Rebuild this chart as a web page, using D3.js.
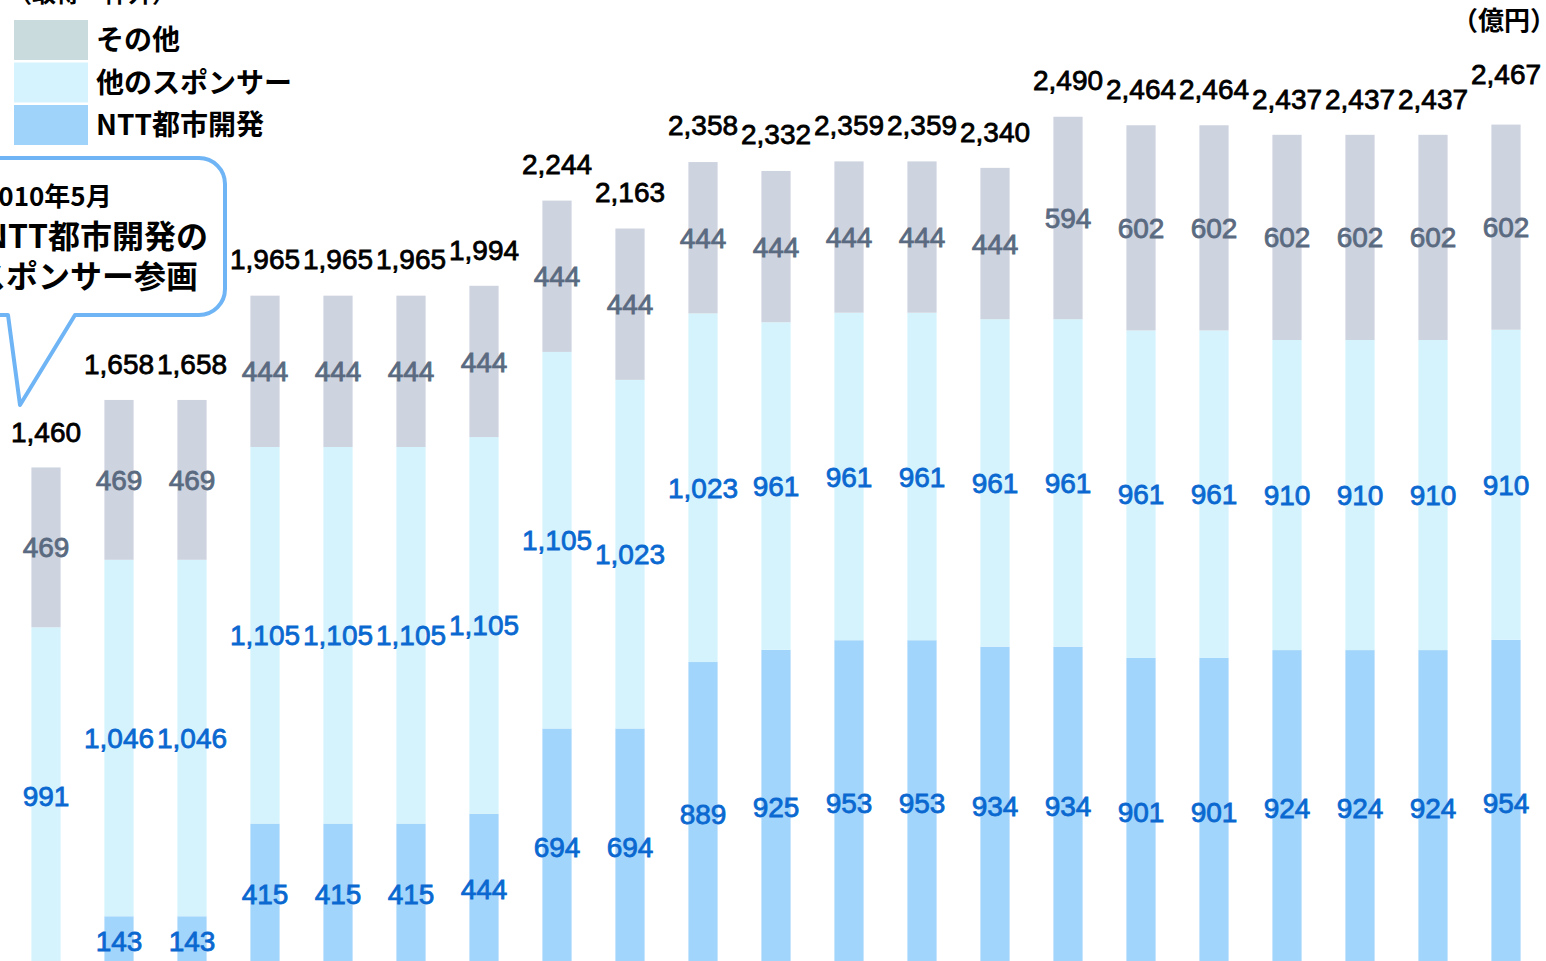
<!DOCTYPE html>
<html>
<head>
<meta charset="utf-8">
<script src="https://cdnjs.cloudflare.com/ajax/libs/d3/7.8.5/d3.min.js"></script>
<style>
  html, body { margin: 0; padding: 0; background: #fff; overflow: hidden; }
  svg { display: block; }
  text { font-family: "Liberation Sans", Arial, sans-serif; }
  .jp { font-family: "Noto Sans CJK JP", sans-serif; }
</style>
</head>
<body>
<div id="chart"></div>
<script>
// values (億円)
const ntt      = [0, 143, 143, 415, 415, 415, 444, 694, 694, 889, 925, 953, 953, 934, 934, 901, 901, 924, 924, 924, 954];
const sponsors = [991, 1046, 1046, 1105, 1105, 1105, 1105, 1105, 1023, 1023, 961, 961, 961, 961, 961, 961, 961, 910, 910, 910, 910];
const others   = [469, 469, 469, 444, 444, 444, 444, 444, 444, 444, 444, 444, 444, 444, 594, 602, 602, 602, 602, 602, 602];
const totals   = [1460, 1658, 1658, 1965, 1965, 1965, 1994, 2244, 2163, 2358, 2332, 2359, 2359, 2340, 2490, 2464, 2464, 2437, 2437, 2437, 2467];

const seriesKeys = ["ntt", "sponsors", "others"];
const legendLabels = ["その他", "他のスポンサー", "NTT都市開発"];
const calloutLines = ["2010年5月", "NTT都市開発の", "スポンサー参画"];

const W = 1546, H = 961;
const svg = d3.select("#chart").append("svg").attr("width", W).attr("height", H);

const rows = ntt.map((v, i) => ({i: i, ntt: v, sponsors: sponsors[i], others: others[i], total: totals[i]}));

const x = d3.scaleBand().domain(rows.map(d => d.i)).range([9.5, 1542.5]).paddingInner(0.6).paddingOuter(0.3);
const y = d3.scaleLinear().domain([0, 2500]).range([965, 113]);

const color = d3.scaleOrdinal().domain(seriesKeys).range(["#a2d5fb", "#d5f3fd", "#cdd3df"]);
const labelColor = d3.scaleOrdinal().domain(seriesKeys).range(["#0a68d0", "#0a68d0", "#5a6a80"]);

const stacked = d3.stack().keys(seriesKeys)(rows);

const g = svg.append("g");

g.selectAll("g.layer")
  .data(stacked)
  .join("g")
  .attr("class", "layer")
  .attr("fill", d => color(d.key))
  .selectAll("rect")
  .data(d => d)
  .join("rect")
  .attr("x", d => x(d.data.i))
  .attr("width", x.bandwidth())
  .attr("y", d => y(d[1]))
  .attr("height", d => y(d[0]) - y(d[1]));

// segment labels
stacked.forEach(layer => {
  g.selectAll(null)
    .data(layer.filter(d => d[1] - d[0] > 0))
    .join("text")
    .attr("x", d => x(d.data.i) + x.bandwidth() / 2)
    .attr("y", d => (y(d[0]) + y(d[1])) / 2)
    .attr("dy", "0.36em")
    .attr("text-anchor", "middle")
    .attr("font-size", 28)
    .attr("fill", labelColor(layer.key))
    .attr("stroke", labelColor(layer.key))
    .attr("stroke-width", 0.8)
    .text(d => d3.format(",")(d[1] - d[0]));
});

// totals
g.selectAll("text.total")
  .data(rows)
  .join("text")
  .attr("class", "total")
  .attr("x", d => x(d.i) + x.bandwidth() / 2)
  .attr("y", (d, i) => y(d.total) - (i === rows.length - 1 ? 50 : 36))
  .attr("dy", "0.36em")
  .attr("text-anchor", "middle")
  .attr("font-size", 28)
  .attr("fill", "#000")
  .attr("stroke", "#000")
  .attr("stroke-width", 0.8)
  .text(d => d3.format(",")(d.total));

// top texts
svg.append("text").attr("class", "jp")
  .attr("x", 8).attr("y", 2)
  .attr("font-size", 24).attr("font-weight", "bold")
  .text("（取得一件外）");

svg.append("text").attr("class", "jp")
  .attr("x", 1452).attr("y", 30)
  .attr("font-size", 26).attr("font-weight", "bold")
  .text("（億円）");

// legend
const legendColors = ["#c9dbdc", "#d4f3fe", "#a0d3fa"];
const lg = svg.append("g");
legendLabels.forEach((lab, k) => {
  const top = 20 + k * 42.5;
  lg.append("rect").attr("x", 14).attr("y", top).attr("width", 74).attr("height", 40).attr("fill", legendColors[k]);
  lg.append("text").attr("class", "jp")
    .attr("x", 96).attr("y", top + 20).attr("dy", "0.36em")
    .attr("font-size", 28).attr("font-weight", "bold")
    .text(lab);
});

// callout bubble
const cx0 = -40, cx1 = 225, cy0 = 158, cy1 = 315, r = 26;
const tail = [[8, cy1], [20, 405], [75, cy1]];
const p = d3.path();
p.moveTo(cx0 + r, cy0);
p.lineTo(cx1 - r, cy0);
p.arcTo(cx1, cy0, cx1, cy0 + r, r);
p.lineTo(cx1, cy1 - r);
p.arcTo(cx1, cy1, cx1 - r, cy1, r);
p.lineTo(tail[2][0], tail[2][1]);
p.lineTo(tail[1][0], tail[1][1]);
p.lineTo(tail[0][0], tail[0][1]);
p.lineTo(cx0 + r, cy1);
p.arcTo(cx0, cy1, cx0, cy1 - r, r);
p.lineTo(cx0, cy0 + r);
p.arcTo(cx0, cy0, cx0 + r, cy0, r);
p.closePath();
svg.append("path").attr("d", p.toString())
  .attr("fill", "#fff").attr("stroke", "#6fb5f5").attr("stroke-width", 4).attr("stroke-linejoin", "round");

svg.append("text").attr("class", "jp")
  .attr("x", -17).attr("y", 197).attr("dy", "0.36em")
  .attr("font-size", 26).attr("font-weight", "bold")
  .text(calloutLines[0]);
svg.append("text").attr("class", "jp")
  .attr("x", -16).attr("y", 236).attr("dy", "0.36em")
  .attr("font-size", 32).attr("font-weight", "bold")
  .text(calloutLines[1]);
svg.append("text").attr("class", "jp")
  .attr("x", -26).attr("y", 276).attr("dy", "0.36em")
  .attr("font-size", 32).attr("font-weight", "bold")
  .text(calloutLines[2]);
</script>
</body>
</html>
